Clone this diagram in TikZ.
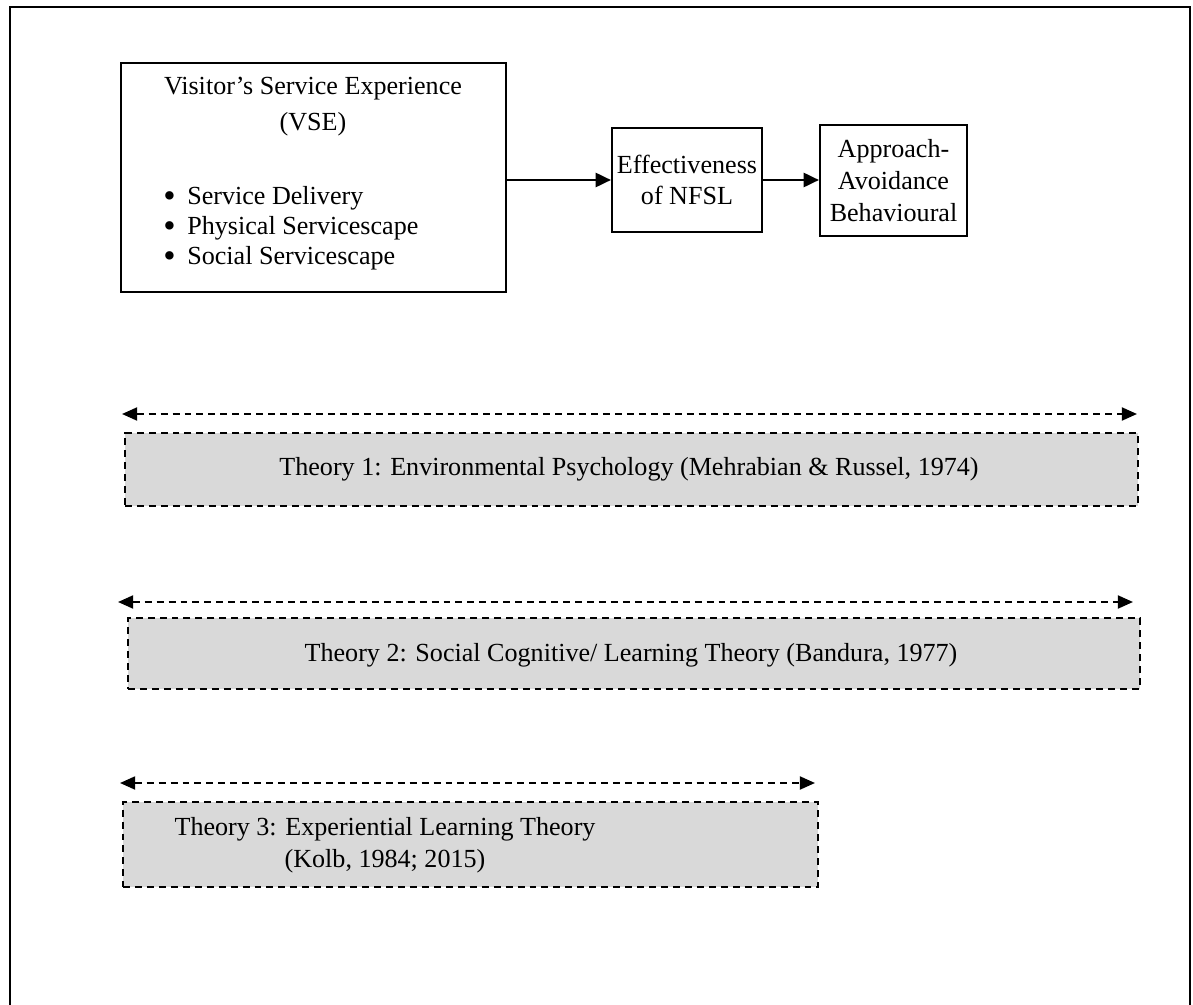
\documentclass[tikz,border=0pt]{standalone}
\usepackage{fontspec}
\setmainfont{Liberation Serif}
\usepackage{graphicx}
\usetikzlibrary{arrows.meta}
\definecolor{theorygray}{HTML}{D9D9D9}
\def\pxl{0.46pt}
\newcommand\bigbul{\makebox[11pt][l]{\raisebox{-1.6pt}[0pt][0pt]{\scalebox{1.35}{\textbullet}}}}
\begin{document}
\begin{tikzpicture}[x=0.46pt,y=-0.46pt,
  box/.style={draw,line width=1pt,inner sep=0pt},
  theory/.style={draw,dash pattern=on 3.2pt off 2.3pt,fill=theorygray,line width=1pt,inner sep=0pt},
  arr/.style={line width=1pt,-{Triangle[length=7pt,width=6.5pt]}},
  darr/.style={line width=1pt,dash pattern=on 3.2pt off 2.3pt,{Triangle[length=7pt,width=6pt]}-{Triangle[length=7pt,width=6pt]}},
  txt/.style={font=\fontsize{12}{14.6}\selectfont,inner sep=0pt,align=center}]
\useasboundingbox (0,0) rectangle (1193,1005);
% outer frame (open at bottom)
\draw[line width=1.3pt] (10,1010) -- (10,7) -- (1190,7) -- (1190,1010);

% boxes
\node[box,minimum width=385*\pxl,minimum height=229*\pxl] (vse) at (313.5,177.5) {};
\node[txt] (vsetitle) at (313,89) {Visitor’s Service Experience};
\node[txt] (vseabbr) at (313,124) {(VSE)};
\node[txt,font=\fontsize{12}{13.8}\selectfont,align=left,anchor=west] (vselist) at (163,228)
  {\bigbul Service Delivery\\
   \bigbul Physical Servicescape\\
   \bigbul Social Servicescape};

\node[box,txt,minimum width=150*\pxl,minimum height=104*\pxl] (eff) at (687,180) {Effectiveness\\of NFSL};
\node[box,txt,minimum width=147*\pxl,minimum height=111*\pxl] (app) at (893.5,180.5) {Approach-\\Avoidance\\Behavioural};

\draw[arr] (vse.east |- eff.west) -- (eff.west);
\draw[arr] (eff.east) -- (app.west |- eff.east);

% theories
\coordinate (t1l) at (122,414);
\coordinate (t1r) at (1137,414);
\draw[darr] (t1l) -- (t1r);
\node[theory,minimum width=1013*\pxl,minimum height=73*\pxl] (t1) at (631.5,469.5) {};
\node[txt] (t1txt) at (629,469) {Theory 1: Environmental Psychology (Mehrabian \& Russel, 1974)};

\coordinate (t2l) at (118,602);
\coordinate (t2r) at (1133,602);
\draw[darr] (t2l) -- (t2r);
\node[theory,minimum width=1012*\pxl,minimum height=71*\pxl] (t2) at (634,653.5) {};
\node[txt] (t2txt) at (631,655) {Theory 2: Social Cognitive/ Learning Theory (Bandura, 1977)};

\coordinate (t3l) at (120,783);
\coordinate (t3r) at (815,783);
\draw[darr] (t3l) -- (t3r);
\node[theory,minimum width=695*\pxl,minimum height=85*\pxl] (t3) at (470.5,844.5) {};
\node[txt] (t3txt) at (385,845) {Theory 3: Experiential Learning Theory\\(Kolb, 1984; 2015)};
\end{tikzpicture}
\end{document}
